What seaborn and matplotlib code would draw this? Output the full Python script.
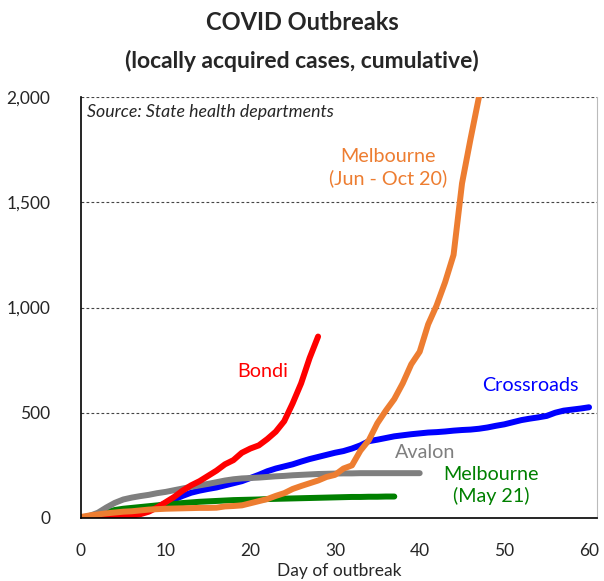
import numpy as np
import pandas as pd
import matplotlib
matplotlib.use("Agg")
import matplotlib.pyplot as plt
import seaborn as sns

# ---- data ----
mel20_days = list(range(0, 48))
mel20_vals = [5, 12, 17, 22, 26, 30, 32, 36, 40, 42, 44, 45, 46, 47, 48, 48, 49, 55, 57, 60,
              70, 80, 90, 105, 118, 138, 152, 165, 178, 195, 205, 235, 250, 320, 370, 450,
              510, 565, 640, 730, 790, 920, 1010, 1120, 1250, 1590, 1800, 2000]

bondi_days = list(range(0, 29))
bondi_vals = [0, 1, 2, 3, 4, 6, 10, 18, 30, 50, 75, 100, 130, 155, 175, 200, 225, 255, 275,
              310, 330, 345, 375, 410, 460, 545, 640, 760, 862]

cross_days = list(range(0, 61))
cross_vals = [0, 3, 6, 10, 14, 18, 24, 32, 42, 55, 70, 88, 105, 120, 130, 138, 145, 155, 165,
              175, 190, 205, 222, 235, 245, 255, 268, 280, 290, 300, 310, 318, 330, 345, 365,
              372, 380, 388, 393, 398, 402, 406, 408, 411, 415, 418, 420, 424, 430, 438, 445,
              455, 465, 472, 478, 485, 500, 510, 515, 520, 526]

avalon_days = list(range(0, 41))
avalon_vals = [0, 10, 25, 50, 72, 88, 97, 104, 110, 118, 124, 132, 140, 148, 155, 162, 170,
               178, 184, 188, 190, 192, 195, 198, 200, 203, 205, 207, 209, 210, 211, 212, 212,
               213, 213, 213, 213, 213, 213, 213, 213]

mel21_days = list(range(0, 38))
mel21_vals = [0, 8, 18, 28, 38, 44, 48, 52, 56, 60, 63, 67, 71, 74, 77, 79, 81, 83, 85, 86,
              87, 88, 90, 91, 92, 93, 94, 95, 96, 97, 98, 99, 100, 100, 101, 101, 102, 102]

series_names = ["Crossroads", "Melbourne (May 21)", "Avalon", "Bondi", "Melbourne (Jun - Oct 20)"]
series_colors = ["#0000FF", "#008000", "#7F7F7F", "#FF0000", "#ED7D31"]
x_ticks = [0, 10, 20, 30, 40, 50, 60]
y_ticks = [0, 500, 1000, 1500, 2000]

frames = []
for name, d, v in [("Crossroads", cross_days, cross_vals),
                   ("Melbourne (May 21)", mel21_days, mel21_vals),
                   ("Avalon", avalon_days, avalon_vals),
                   ("Bondi", bondi_days, bondi_vals),
                   ("Melbourne (Jun - Oct 20)", mel20_days, mel20_vals)]:
    frames.append(pd.DataFrame({"day": d, "cases": v, "series": name}))
df = pd.concat(frames, ignore_index=True)

sns.set_style("white")
plt.rcParams['font.family'] = ['Lato', 'DejaVu Sans']

fig = plt.figure(figsize=(6.04, 5.81), dpi=100)
ax = fig.add_axes([81/604, 1-518/581, (597-81)/604, (518-97)/581])

for name, col in zip(series_names, series_colors):
    sub = df[df["series"] == name]
    sns.lineplot(data=sub, x="day", y="cases", color=col, linewidth=4.3, ax=ax,
                 legend=False, solid_capstyle="round", solid_joinstyle="round", clip_on=True)

ax.set_xlim(0, 60.94)
ax.set_ylim(0, 2000)
ax.set_xticks(x_ticks)
ax.set_yticks(y_ticks)
ax.set_yticklabels([f"{t:,}" for t in y_ticks], fontsize=12.5)
ax.set_xticklabels([str(t) for t in x_ticks], fontsize=12.5)
ax.tick_params(axis="x", direction="in", length=5, width=1, pad=18, color="black")
ax.tick_params(axis="y", length=0, pad=22)
for lab in ax.get_yticklabels():
    lab.set_horizontalalignment("right")
ax.set_xlabel("Day of outbreak", fontsize=12.5, labelpad=3)
ax.set_ylabel("")

for yv in [500, 1000, 1500, 2000]:
    ax.axhline(yv, color="#444444", linestyle=(0, (2.5, 2)), linewidth=0.8, zorder=0)

ax.spines["left"].set_color("black")
ax.spines["bottom"].set_color("black")
ax.spines["left"].set_linewidth(1.2)
ax.spines["bottom"].set_linewidth(1.2)
ax.spines["top"].set_visible(False)
ax.spines["right"].set_color("#BBBBBB")
ax.spines["right"].set_linewidth(0.8)

fig.text(0.5, 1-23/581, "COVID Outbreaks", ha="center", va="center", fontsize=17, fontweight="bold")
fig.text(0.5, 1-61/581, "(locally acquired cases, cumulative)", ha="center", va="center",
         fontsize=16.5, fontweight="bold")

ax.text(0.012, 0.965, "Source: State health departments", transform=ax.transAxes,
        fontsize=12.8, style="italic", ha="left", va="center")

ax.text(36.3, 1665, "Melbourne\n(Jun - Oct 20)", color="#ED7D31", fontsize=14.2, ha="center",
        va="center", linespacing=1.25)
ax.text(21.5, 695, "Bondi", color="#FF0000", fontsize=14.2, ha="center", va="center")
ax.text(53.1, 628, "Crossroads", color="#0000FF", fontsize=14.2, ha="center", va="center")
ax.text(40.6, 312, "Avalon", color="#7F7F7F", fontsize=14.2, ha="center", va="center")
ax.text(48.4, 155, "Melbourne\n(May 21)", color="#008000", fontsize=14.2, ha="center",
        va="center", linespacing=1.25)

fig.savefig("out.png", dpi=100)
